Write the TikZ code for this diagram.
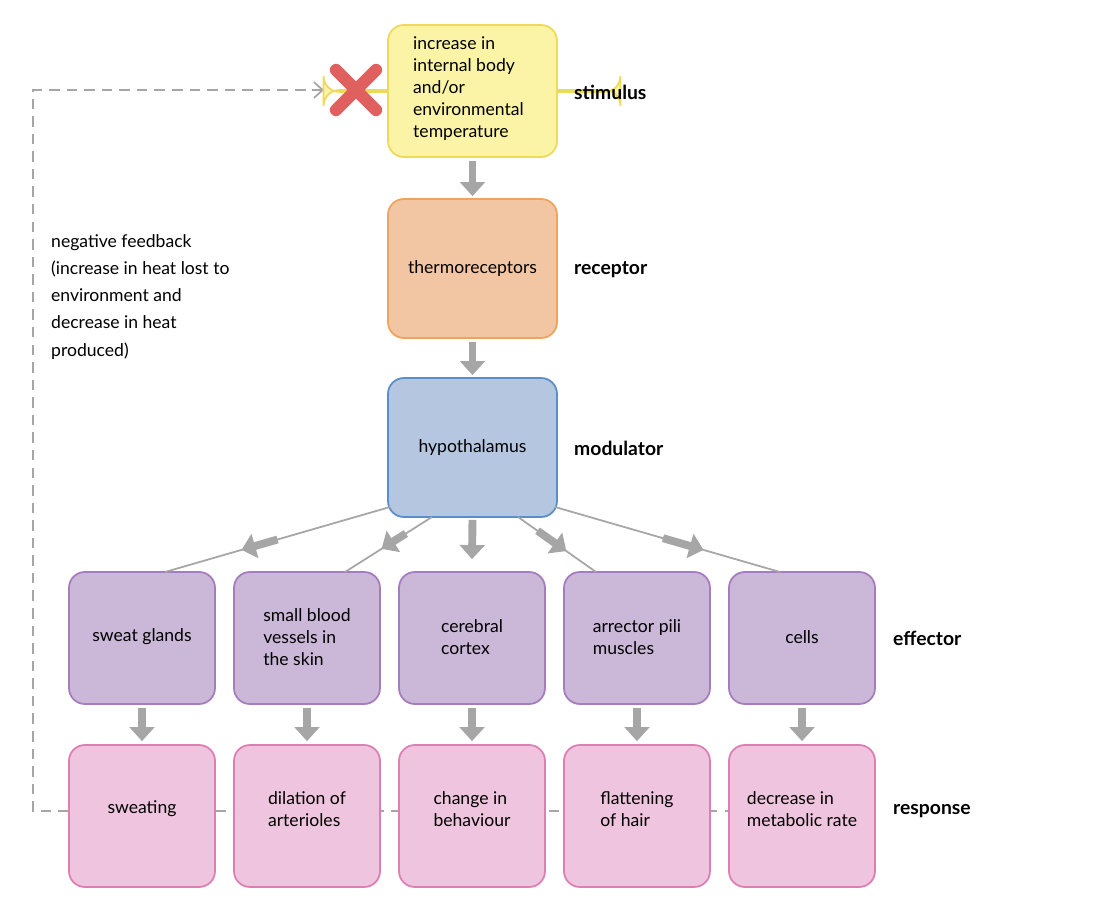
\documentclass[tikz,border=0pt]{standalone}
\usepackage{fontspec}
\setmainfont{Lato}
\usetikzlibrary{arrows.meta,calc}
\definecolor{ar}{HTML}{A6A6A6}
\definecolor{yf}{HTML}{FBF3A6}\definecolor{yd}{HTML}{EDD95A}
\definecolor{of}{HTML}{F2C5A3}\definecolor{od}{HTML}{EFA45E}
\definecolor{bf}{HTML}{B5C7E0}\definecolor{bd}{HTML}{5B8DC6}
\definecolor{pf}{HTML}{CBB7D8}\definecolor{pd}{HTML}{A57DBE}
\definecolor{rf}{HTML}{EFC4DE}\definecolor{rd}{HTML}{DE7FB4}
\definecolor{xr}{HTML}{E05F5F}
\begin{document}
\begin{tikzpicture}[x=0.02cm,y=-0.02cm,
 box/.style={draw,line width=1pt,rounded corners=9pt,inner sep=0pt,align=left,font=\fontsize{10}{12.5}\selectfont},
 lab/.style={anchor=west,font=\fontsize{11}{13}\selectfont\bfseries},
 big/.style={ar,line width=4.5pt,-{Triangle[width=14pt,length=8pt]}},
 thin/.style={ar,line width=1pt}]
\useasboundingbox (0,0) rectangle (1106,902);
% dashed feedback
\draw[ar,line width=1pt,dash pattern=on 6pt off 4pt] (69,811) -- (33,811) -- (33,90) -- (322,90);
\draw[ar,line width=1pt,-{Straight Barb[length=5pt,width=9pt]}] (312,90) -- (324,90);
\draw[ar,line width=1pt,dash pattern=on 6pt off 4pt] (215,811) -- (729,811);
\node[anchor=north west,align=left,font=\fontsize{10}{15.5}\selectfont] (nf) at (45,228) {negative feedback\\(increase in heat lost to\\environment and\\decrease in heat\\produced)};
% boxes
\node[box,fill=yf,draw=yd,minimum width=169\pgflinewidth] (s) at (472,91) {};
\path (388,25) coordinate (s1) (557,157) coordinate (s2);
\node[box,fill=yf,draw=yd,fit/.style={},minimum width=3.38cm,minimum height=2.64cm] (stim) at (472.5,91) {};
\node[anchor=west,align=left,font=\fontsize{10}{12.5}\selectfont] (stimt) at (407,89) {increase in\\internal body\\and/or\\environmental\\temperature};
\node[box,fill=of,draw=od,minimum width=3.38cm,minimum height=2.78cm,align=center] (rec) at (472.5,268.5) {thermoreceptors};
\node[box,fill=bf,draw=bd,minimum width=3.38cm,minimum height=2.78cm,align=center] (hyp) at (472.5,447.5) {hypothalamus};
\node[lab] (l1) at (568,92) {stimulus};
\node[lab] (l2) at (568,270) {receptor};
\node[lab] (l3) at (568,448) {modulator};
\node[lab] (l4) at (887,638) {effector};
\node[lab] (l5) at (887,811) {response};
% red X
\draw[xr,line width=7pt,line cap=round] (336,70) -- (376,110) (336,110) -- (376,70);
\node[inner sep=0pt] (xx) at (356,90) {};
% effectors & responses
\foreach \i/\x/\e/\r in {1/142/sweat glands/sweating,
 2/307/{small blood\\vessels in\\the skin}/{dilation of\\arterioles},
 3/472/{cerebral\\cortex}/{change in\\behaviour},
 4/637/{arrector pili\\muscles}/{flattening\\of hair},
 5/802/cells/{decrease in\\metabolic rate}}{
 \node[box,fill=pf,draw=pd,minimum width=2.92cm,minimum height=2.64cm] (e\i) at (\x,638) {};
 \node[align=left,font=\fontsize{10}{12.5}\selectfont] (et\i) at (\x,637) {\e};
 \node[box,fill=rf,draw=rd,minimum width=2.92cm,minimum height=2.84cm] (r\i) at (\x,816) {};
 \node[align=left,font=\fontsize{10}{12.5}\selectfont] (rt\i) at (\x,809) {\r};
 \draw[big] (e\i.south) ++(0,3) -- ($(r\i.north)+(0,-3)$);
}
\draw[big] ($(stim.south)+(0,3)$) -- ($(rec.north)+(0,-2)$);
\draw[big] ($(rec.south)+(0,3)$) -- ($(hyp.north)+(0,-2)$);
\draw[big] ($(hyp.south)+(0,2)$) -- ($(e3.north)+(0,-12)$);
% fan lines
\coordinate (h1) at (390,507); \coordinate (f1) at (165,572);
\coordinate (h2) at (432,517); \coordinate (f2) at (345,572);
\coordinate (h4) at (518,517); \coordinate (f4) at (596,572);
\coordinate (h5) at (555,507); \coordinate (f5) at (780,572);
\foreach \a/\b/\p/\q in {h1/f1/0.50/0.66,h2/f2/0.30/0.58,h4/f4/0.25/0.62,h5/f5/0.48/0.66}{
 \draw[thin] (\a) -- (\b);
 \draw[big] ($(\a)!\p!(\b)$) -- ($(\a)!\q!(\b)$);
}
\end{tikzpicture}
\end{document}
